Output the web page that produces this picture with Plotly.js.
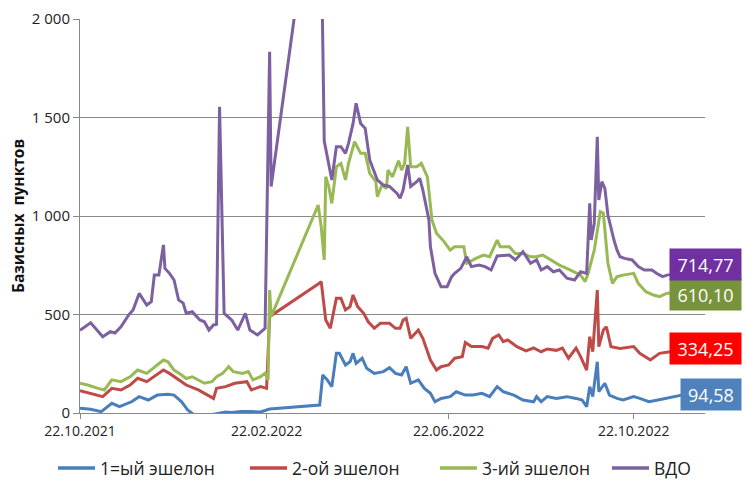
<!DOCTYPE html>
<html>
<head>
<meta charset="utf-8">
<script src="https://cdn.plot.ly/plotly-3.0.1.min.js"></script>
<style>html,body{margin:0;padding:0;background:#fff;}#chart{width:746px;height:484px;}</style>
</head>
<body>
<div id="chart"></div>
<script>
// ---- Data ----
const seriesNames = ["1=ый эшелон", "2-ой эшелон", "3-ий эшелон", "ВДО"];

const datesEch1 = ["2021-10-22","2021-10-29","2021-11-05","2021-11-12","2021-11-17","2021-11-25","2021-11-30","2021-12-06","2021-12-12","2021-12-19","2021-12-23","2021-12-28","2022-01-01","2022-01-05","2022-01-12","2022-01-20","2022-01-26","2022-01-30","2022-02-05","2022-02-12","2022-02-18","2022-02-22","2022-02-24","2022-03-29","2022-03-31","2022-04-03","2022-04-06","2022-04-09","2022-04-11","2022-04-15","2022-04-18","2022-04-20","2022-04-22","2022-04-26","2022-04-29","2022-05-04","2022-05-10","2022-05-14","2022-05-18","2022-05-22","2022-05-25","2022-05-28","2022-06-02","2022-06-06","2022-06-10","2022-06-13","2022-06-17","2022-06-23","2022-06-27","2022-07-03","2022-07-08","2022-07-14","2022-07-19","2022-07-24","2022-07-28","2022-08-04","2022-08-10","2022-08-17","2022-08-19","2022-08-22","2022-08-26","2022-09-01","2022-09-08","2022-09-14","2022-09-18","2022-09-21","2022-09-23","2022-09-25","2022-09-28","2022-09-29","2022-10-03","2022-10-06","2022-10-11","2022-10-15","2022-10-22","2022-10-26","2022-11-01","2022-11-07","2022-11-16","2022-11-25"];
const ech1 = [24,19,7,49,32,57,83,66,91,95,91,57,15,-8,-15,-5,5,3,8,7,5,15,20,40,193,168,134,303,303,244,260,303,252,278,227,201,210,230,201,193,235,151,168,125,100,57,74,83,108,91,91,100,83,134,108,91,66,57,83,57,83,74,83,74,66,32,134,83,260,108,151,91,74,66,83,74,57,66,80,94.58];

const datesEch2 = ["2021-10-22","2021-10-29","2021-11-06","2021-11-12","2021-11-18","2021-11-24","2021-11-29","2021-12-05","2021-12-10","2021-12-16","2021-12-20","2021-12-26","2021-12-31","2022-01-08","2022-01-18","2022-01-20","2022-01-26","2022-02-01","2022-02-09","2022-02-12","2022-02-18","2022-02-22","2022-02-24","2022-03-29","2022-03-30","2022-04-02","2022-04-05","2022-04-09","2022-04-12","2022-04-15","2022-04-18","2022-04-20","2022-04-23","2022-04-27","2022-04-30","2022-05-04","2022-05-08","2022-05-14","2022-05-18","2022-05-21","2022-05-23","2022-05-25","2022-05-28","2022-06-02","2022-06-05","2022-06-10","2022-06-14","2022-06-17","2022-06-22","2022-06-26","2022-07-01","2022-07-03","2022-07-07","2022-07-14","2022-07-18","2022-07-21","2022-07-25","2022-07-28","2022-07-31","2022-08-06","2022-08-12","2022-08-17","2022-08-22","2022-08-26","2022-09-01","2022-09-05","2022-09-09","2022-09-14","2022-09-17","2022-09-21","2022-09-23","2022-09-25","2022-09-28","2022-09-29","2022-10-02","2022-10-04","2022-10-07","2022-10-13","2022-10-22","2022-10-26","2022-11-02","2022-11-08","2022-11-15","2022-11-25"];
const ech2 = [113,100,83,125,117,142,176,159,184,218,201,168,142,117,74,125,134,151,159,117,134,125,489,660,667,472,430,582,582,523,540,599,540,506,463,430,455,455,430,430,472,481,379,421,379,269,218,235,244,278,286,358,337,337,329,379,396,362,371,337,315,330,311,325,318,330,278,330,286,218,387,311,624,337,421,438,337,328,337,303,269,303,311,334.25];

const datesEch3 = ["2021-10-22","2021-10-27","2021-11-03","2021-11-07","2021-11-12","2021-11-18","2021-11-24","2021-11-29","2021-12-05","2021-12-09","2021-12-16","2021-12-19","2021-12-23","2021-12-28","2021-12-31","2022-01-04","2022-01-12","2022-01-17","2022-01-20","2022-01-24","2022-01-28","2022-01-31","2022-02-06","2022-02-10","2022-02-13","2022-02-18","2022-02-21","2022-02-23","2022-02-24","2022-02-25","2022-03-28","2022-03-30","2022-04-01","2022-04-02","2022-04-04","2022-04-06","2022-04-09","2022-04-12","2022-04-15","2022-04-17","2022-04-19","2022-04-21","2022-04-25","2022-04-28","2022-05-01","2022-05-05","2022-05-06","2022-05-09","2022-05-12","2022-05-13","2022-05-16","2022-05-20","2022-05-22","2022-05-24","2022-05-26","2022-05-28","2022-06-01","2022-06-04","2022-06-08","2022-06-11","2022-06-14","2022-06-19","2022-06-23","2022-06-26","2022-07-02","2022-07-04","2022-07-10","2022-07-15","2022-07-19","2022-07-24","2022-07-26","2022-08-01","2022-08-05","2022-08-10","2022-08-15","2022-08-19","2022-08-23","2022-08-28","2022-09-03","2022-09-10","2022-09-17","2022-09-20","2022-09-22","2022-09-26","2022-09-30","2022-10-02","2022-10-03","2022-10-05","2022-10-08","2022-10-11","2022-10-15","2022-10-22","2022-10-25","2022-10-30","2022-11-04","2022-11-08","2022-11-13","2022-11-25"];
const ech3 = [151,142,125,117,168,159,184,218,201,227,269,260,218,193,175,184,151,159,184,201,235,210,201,210,168,184,201,168,624,489,1056,946,777,1199,1149,1064,1250,1267,1183,1267,1318,1377,1318,1318,1216,1174,1098,1157,1140,1233,1199,1280,1233,1267,1453,1250,1250,1267,1199,980,912,870,827,844,844,760,785,802,793,878,844,844,810,810,793,793,802,777,751,726,700,667,709,827,1022,1014,929,760,658,692,700,709,658,616,599,591,608,610.10];

const datesVdo = ["2021-10-22","2021-10-29","2021-11-06","2021-11-11","2021-11-14","2021-11-18","2021-11-23","2021-11-26","2021-11-30","2021-12-05","2021-12-08","2021-12-10","2021-12-13","2021-12-16","2021-12-17","2021-12-20","2021-12-23","2021-12-26","2021-12-29","2021-12-31","2022-01-04","2022-01-09","2022-01-12","2022-01-15","2022-01-18","2022-01-20","2022-01-22","2022-01-25","2022-01-30","2022-02-03","2022-02-08","2022-02-11","2022-02-16","2022-02-21","2022-02-24","2022-02-25","2022-03-29","2022-04-01","2022-04-06","2022-04-09","2022-04-12","2022-04-15","2022-04-17","2022-04-20","2022-04-22","2022-04-25","2022-04-28","2022-05-01","2022-05-06","2022-05-10","2022-05-14","2022-05-19","2022-05-21","2022-05-23","2022-05-26","2022-05-28","2022-06-01","2022-06-03","2022-06-05","2022-06-09","2022-06-10","2022-06-13","2022-06-17","2022-06-21","2022-06-24","2022-06-26","2022-06-30","2022-07-04","2022-07-07","2022-07-12","2022-07-16","2022-07-20","2022-07-24","2022-07-29","2022-08-01","2022-08-05","2022-08-10","2022-08-15","2022-08-19","2022-08-22","2022-08-26","2022-08-30","2022-09-03","2022-09-08","2022-09-13","2022-09-17","2022-09-21","2022-09-23","2022-09-24","2022-09-26","2022-09-28","2022-09-29","2022-10-01","2022-10-03","2022-10-05","2022-10-09","2022-10-11","2022-10-13","2022-10-16","2022-10-21","2022-10-25","2022-10-29","2022-11-03","2022-11-06","2022-11-10","2022-11-13","2022-11-25"];
const vdo = [420,458,387,413,406,438,497,523,607,548,565,700,700,853,734,709,675,574,558,507,514,472,463,421,447,450,1555,506,472,421,506,421,396,430,1834,1150,2950,1380,1183,1352,1352,1318,1369,1470,1572,1470,1445,1284,1183,1157,1150,1115,1090,1132,1259,1150,1174,1191,1132,980,844,709,641,641,692,709,734,793,743,751,743,726,797,802,802,777,819,760,777,726,743,717,726,684,675,717,709,1064,878,963,1402,1081,1174,1140,1005,878,827,793,785,777,743,726,726,709,692,700,714.77];

const lastLabels = ["94,58", "334,25", "610,10", "714,77"];
const xTickVals = ["2021-10-22", "2022-02-22", "2022-06-22", "2022-10-22"];
const xTickText = ["22.10.2021", "22.02.2022", "22.06.2022", "22.10.2022"];
const yTickVals = [0, 500, 1000, 1500, 2000];
const yTickText = ["0", "500", "1 000", "1 500", "2 000"];
const yTitle = "Базисных\u00a0 пунктов";

// ---- Styles / layout helpers ----
const lineColors = ["#4A7EBB", "#BE4B48", "#98B954", "#7D60A0"];
const boxColors = ["#4F81BD", "#FF0000", "#77933C", "#7030A0"];
const FONT = "Open Sans, DejaVu Sans, sans-serif";
const W = 746, H = 484, ML = 80, MR = 41, MT = 19, MB = 71;
const PW = W - ML - MR, PH = H - MT - MB;
const px2x = (px) => (px - ML) / PW;            // pixel -> paper x
const py2y = (py) => (H - MB - py) / PH;         // pixel -> paper y
const legendItemLeft = [58, 250, 440, 612];       // legend key positions (px)
const legendRowY = 468;

const xs = [datesEch1, datesEch2, datesEch3, datesVdo];
const ys = [ech1, ech2, ech3, vdo];

const traces = seriesNames.map((name, i) => ({
  type: "scatter",
  mode: "lines",
  name: name,
  x: xs[i],
  y: ys[i],
  line: {color: lineColors[i], width: 3},
  showlegend: false,
  hoverinfo: "x+y+name"
}));

const boxWidths = [60, 71, 71, 71];
const yShifts = [0, -1, -2, 8];
const annotations = lastLabels.map((t, i) => ({
  xref: "paper", yref: "y",
  x: px2x(742), xanchor: "right",
  y: ys[i][ys[i].length - 1], yanchor: "middle",
  yshift: yShifts[i],
  text: t,
  showarrow: false,
  bgcolor: boxColors[i],
  font: {family: FONT, size: 18, color: "#ffffff"},
  width: boxWidths[i],
  height: 31,
  borderpad: 0,
  align: "center"
}));

// legend (drawn as key lines + text)
const shapes = [];
seriesNames.forEach((name, i) => {
  const x0 = legendItemLeft[i];
  shapes.push({
    type: "line", xref: "paper", yref: "paper",
    x0: px2x(x0), x1: px2x(x0 + 37), y0: py2y(legendRowY), y1: py2y(legendRowY),
    line: {color: lineColors[i], width: 3.5}
  });
  annotations.push({
    xref: "paper", yref: "paper",
    x: px2x(x0 + 40), xanchor: "left",
    y: py2y(legendRowY), yanchor: "middle",
    text: name, showarrow: false,
    font: {family: FONT, size: 17.5, color: "#222"}
  });
});

// y axis title
annotations.push({
  xref: "paper", yref: "paper",
  x: px2x(18), xanchor: "center",
  y: 0.5, yanchor: "middle",
  text: "<b>" + yTitle + "</b>", textangle: -90, showarrow: false,
  font: {family: FONT, size: 15.5, color: "#111"}
});

const layout = {
  width: W, height: H,
  margin: {l: ML, r: MR, t: MT, b: MB, pad: 0},
  paper_bgcolor: "#ffffff",
  plot_bgcolor: "#ffffff",
  showlegend: false,
  xaxis: {
    type: "date",
    range: ["2021-10-22", "2022-12-08"],
    tickmode: "array",
    tickvals: xTickVals,
    ticktext: xTickText,
    ticks: "outside", ticklen: 5, tickcolor: "#888",
    showgrid: false,
    showline: true, linecolor: "#888", linewidth: 1,
    zeroline: false,
    automargin: false,
    tickfont: {family: FONT, size: 14, color: "#222"}
  },
  yaxis: {
    range: [0, 2000],
    tickmode: "array",
    tickvals: yTickVals,
    ticktext: yTickText,
    ticks: "outside", ticklen: 6, tickcolor: "#888",
    showgrid: true, gridcolor: "#888", gridwidth: 1,
    showline: true, linecolor: "#888", linewidth: 1,
    zeroline: false,
    automargin: false,
    tickfont: {family: FONT, size: 15, color: "#222"}
  },
  shapes: shapes,
  annotations: annotations
};

Plotly.newPlot("chart", traces, layout, {displayModeBar: false, staticPlot: true});
</script>
</body>
</html>
